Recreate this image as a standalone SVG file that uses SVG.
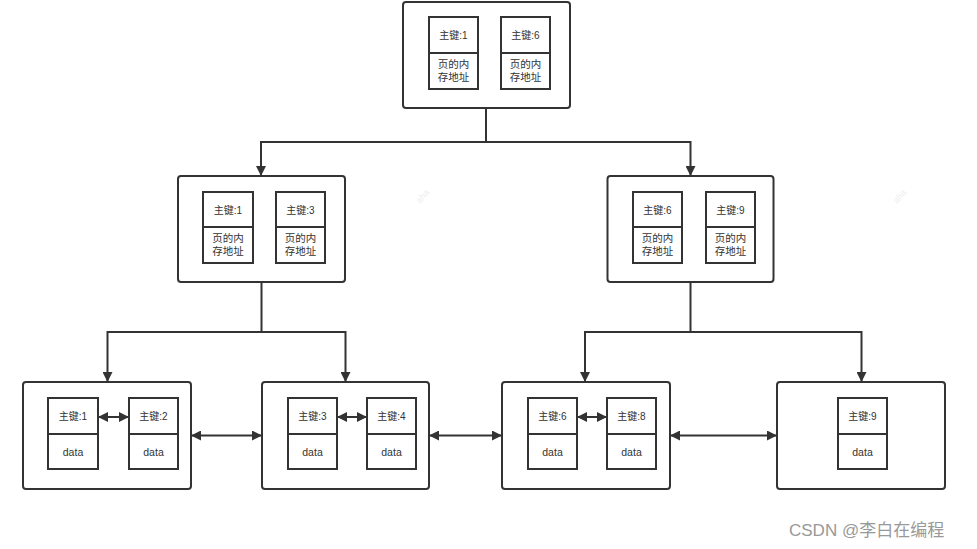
<svg xmlns="http://www.w3.org/2000/svg" width="977" height="549" viewBox="0 0 977 549">
<style>
.outer{fill:#fff;stroke:#333;stroke-width:2}
.cell{fill:#fff;stroke:#333;stroke-width:2}
.t{font-family:"Liberation Sans","Noto Sans CJK SC",sans-serif;font-size:10px;fill:#333;text-anchor:middle}
.t2{font-family:"Liberation Sans","Noto Sans CJK SC",sans-serif;font-size:10.5px;fill:#333;text-anchor:middle}
.c{fill:none;stroke:#333;stroke-width:2}
.wm{font-family:"Liberation Sans",sans-serif;font-size:9px;fill:#eee}
.csdn{font-family:"Liberation Sans","Noto Sans CJK SC",sans-serif;font-size:17px;fill:#999}
</style>
<defs>
<marker id="ah" viewBox="0 0 10 10" refX="10" refY="5" markerWidth="5" markerHeight="5" orient="auto-start-reverse" markerUnits="strokeWidth">
<path d="M0,0 L10,5 L0,10 z" fill="#333"/>
</marker>
</defs>
<rect width="977" height="549" fill="#fff"/>
<text class="wm" transform="translate(420,204) rotate(-50)">aha</text>
<text class="wm" transform="translate(897,204) rotate(-50)">aha</text>
<g id="root">
<rect class="outer" x="403" y="2" width="167" height="106" rx="3"/>
<rect class="cell" x="429" y="17" width="49" height="36"/>
<rect class="cell" x="429" y="53" width="49" height="36"/>
<text class="t" x="453.5" y="39">主键:1</text>
<text class="t2" x="453.5" y="68">页的内</text>
<text class="t2" x="453.5" y="81">存地址</text>
<rect class="cell" x="501" y="17" width="49" height="36"/>
<rect class="cell" x="501" y="53" width="49" height="36"/>
<text class="t" x="525.5" y="39">主键:6</text>
<text class="t2" x="525.5" y="68">页的内</text>
<text class="t2" x="525.5" y="81">存地址</text>
</g>
<g id="mid-left">
<rect class="outer" x="178" y="176" width="167" height="106" rx="3"/>
<rect class="cell" x="203" y="192" width="50" height="35"/>
<rect class="cell" x="203" y="227" width="50" height="36"/>
<text class="t" x="228" y="214">主键:1</text>
<text class="t2" x="228" y="242">页的内</text>
<text class="t2" x="228" y="255">存地址</text>
<rect class="cell" x="276" y="192" width="49" height="35"/>
<rect class="cell" x="276" y="227" width="49" height="36"/>
<text class="t" x="300.5" y="214">主键:3</text>
<text class="t2" x="300.5" y="242">页的内</text>
<text class="t2" x="300.5" y="255">存地址</text>
</g>
<g id="mid-right">
<rect class="outer" x="607.5" y="176" width="166" height="106" rx="3"/>
<rect class="cell" x="633" y="192" width="49" height="35"/>
<rect class="cell" x="633" y="227" width="49" height="36"/>
<text class="t" x="657.5" y="214">主键:6</text>
<text class="t2" x="657.5" y="242">页的内</text>
<text class="t2" x="657.5" y="255">存地址</text>
<rect class="cell" x="706" y="192" width="49" height="35"/>
<rect class="cell" x="706" y="227" width="49" height="36"/>
<text class="t" x="730.5" y="214">主键:9</text>
<text class="t2" x="730.5" y="242">页的内</text>
<text class="t2" x="730.5" y="255">存地址</text>
</g>
<g id="leaf1">
<rect class="outer" x="23" y="382" width="168" height="107" rx="3"/>
<rect class="cell" x="48" y="398" width="50" height="36"/>
<rect class="cell" x="48" y="434" width="50" height="35"/>
<text class="t" x="73" y="420">主键:1</text>
<text class="t2" x="73" y="456">data</text>
<rect class="cell" x="129" y="398" width="49" height="36"/>
<rect class="cell" x="129" y="434" width="49" height="35"/>
<text class="t" x="153.5" y="420">主键:2</text>
<text class="t2" x="153.5" y="456">data</text>
</g>
<g id="leaf2">
<rect class="outer" x="262" y="382" width="167" height="107" rx="3"/>
<rect class="cell" x="288" y="398" width="49" height="36"/>
<rect class="cell" x="288" y="434" width="49" height="35"/>
<text class="t" x="312.5" y="420">主键:3</text>
<text class="t2" x="312.5" y="456">data</text>
<rect class="cell" x="367" y="398" width="49" height="36"/>
<rect class="cell" x="367" y="434" width="49" height="35"/>
<text class="t" x="391.5" y="420">主键:4</text>
<text class="t2" x="391.5" y="456">data</text>
</g>
<g id="leaf3">
<rect class="outer" x="502" y="382" width="168" height="107" rx="3"/>
<rect class="cell" x="528" y="398" width="49" height="36"/>
<rect class="cell" x="528" y="434" width="49" height="35"/>
<text class="t" x="552.5" y="420">主键:6</text>
<text class="t2" x="552.5" y="456">data</text>
<rect class="cell" x="607" y="398" width="49" height="36"/>
<rect class="cell" x="607" y="434" width="49" height="35"/>
<text class="t" x="631.5" y="420">主键:8</text>
<text class="t2" x="631.5" y="456">data</text>
</g>
<g id="leaf4">
<rect class="outer" x="777" y="382" width="168" height="107" rx="3"/>
<rect class="cell" x="838" y="398" width="49" height="36"/>
<rect class="cell" x="838" y="434" width="49" height="35"/>
<text class="t" x="862.5" y="420">主键:9</text>
<text class="t2" x="862.5" y="456">data</text>
</g>
<g id="connectors">
<path class="c" d="M486,108 V142 H261 V176" marker-end="url(#ah)"/>
<path class="c" d="M486,142 H690.5 V176" marker-end="url(#ah)"/>
<path class="c" d="M261.5,282 V332 H107.5 V382" marker-end="url(#ah)"/>
<path class="c" d="M261.5,332 H345.5 V382" marker-end="url(#ah)"/>
<path class="c" d="M690.5,282 V332 H585 V382" marker-end="url(#ah)"/>
<path class="c" d="M690.5,332 H861.5 V382" marker-end="url(#ah)"/>
<path class="c" d="M191,435.5 H262" marker-start="url(#ah)" marker-end="url(#ah)"/>
<path class="c" d="M429,435.5 H502" marker-start="url(#ah)" marker-end="url(#ah)"/>
<path class="c" d="M670,435.5 H777" marker-start="url(#ah)" marker-end="url(#ah)"/>
<path class="c" d="M98,417 H129" marker-start="url(#ah)" marker-end="url(#ah)"/>
<path class="c" d="M337,417 H367" marker-start="url(#ah)" marker-end="url(#ah)"/>
<path class="c" d="M577,417 H607" marker-start="url(#ah)" marker-end="url(#ah)"/>
</g>
<text class="csdn" x="789" y="536">CSDN @李白在编程</text>
</svg>
